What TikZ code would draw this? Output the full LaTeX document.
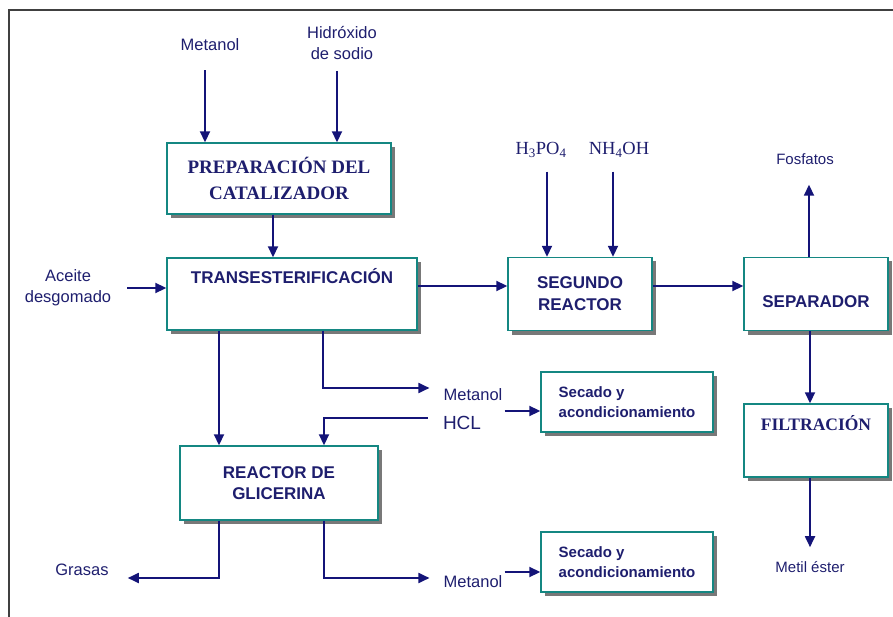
\documentclass[tikz,border=0pt]{standalone}
\usepackage{fontspec}
\setmainfont{Liberation Serif}
\setsansfont{Liberation Sans}
\usetikzlibrary{arrows.meta,positioning,shadows}
\definecolor{pnavy}{RGB}{20,20,120}
\definecolor{ptext}{RGB}{30,30,110}
\definecolor{pteal}{RGB}{20,135,130}
\definecolor{pshadow}{RGB}{120,120,120}

\begin{document}
\begin{tikzpicture}[x=1pt,y=-1pt,
  unit/.style={draw=pteal, line width=1.4pt, fill=white, text=ptext, align=center,
    drop shadow={shadow xshift=4pt, shadow yshift=-4pt, fill=pshadow, opacity=1}},
  sanslbl/.style={font=\sffamily\bfseries\fontsize{17}{22}\selectfont},
  seriflbl/.style={font=\bfseries\fontsize{19}{26}\selectfont},
  tag/.style={text=ptext, inner sep=2pt, align=center, font=\sffamily\fontsize{16.5}{21}\selectfont},
  flow/.style={draw=pnavy, line width=1.8pt, -{Triangle[length=11pt,width=10pt]}}
]
\useasboundingbox (0,0) rectangle (893,617);
% page frame
\draw[line width=2.2pt, black!75] (9,617) -- (9,10) -- (893,10);

% process units
\node[unit, seriflbl, minimum width=224pt, minimum height=71pt] (prep) at (279,178.5) {PREPARACIÓN DEL\\CATALIZADOR};
\node[unit, sanslbl, minimum width=250pt, minimum height=72pt] (trans) at (292,294) {TRANSESTERIFICACIÓN\\[14pt]\mbox{}};
\node[unit, sanslbl, minimum width=144pt, minimum height=73pt] (seg) at (580,294) {SEGUNDO\\REACTOR};
\node[unit, sanslbl, minimum width=144pt, minimum height=73pt] (sep) at (816,294) {\raisebox{-8pt}[\height][0pt]{SEPARADOR}};
\node[unit, font=\bfseries\fontsize{17.5}{22}\selectfont, minimum width=144pt, minimum height=73pt] (filt) at (816,440.5) {FILTRACIÓN\\[13pt]\mbox{}};
\node[unit, font=\sffamily\bfseries\fontsize{17}{21}\selectfont, minimum width=198pt, minimum height=74pt] (gli) at (279,483) {REACTOR DE\\GLICERINA};
\node[unit, align=left, font=\sffamily\bfseries\fontsize{15}{19.5}\selectfont, minimum width=172pt, minimum height=60pt] (sec1) at (627,402) {Secado y\\acondicionamiento};
\node[unit, align=left, font=\sffamily\bfseries\fontsize{15}{19.5}\selectfont, minimum width=172pt, minimum height=60pt] (sec2) at (627,562) {Secado y\\acondicionamiento};

% streams in and out
\node[tag] (metA) at (210,45) {Metanol};
\node[tag] (naoh) at (342,43) {Hidróxido\\de sodio};
\node[tag] (aceite) at (68,288) {Aceite\\desgomado};
\node[tag, font=\rmfamily\fontsize{18.5}{22}\selectfont] (h3po4) at (541,150) {H\textsubscript{3}PO\textsubscript{4}};
\node[tag, font=\rmfamily\fontsize{18.5}{22}\selectfont] (nh4oh) at (619,150) {NH\textsubscript{4}OH};
\node[tag, font=\sffamily\fontsize{15}{18}\selectfont] (fosf) at (805,159) {Fosfatos};
\node[tag, font=\sffamily\fontsize{15}{18}\selectfont] (ester) at (810,567) {Metil éster};
\node[tag] (met1) at (473,395) {Metanol};
\node[tag, font=\sffamily\fontsize{19}{22}\selectfont] (hcl) at (462,423) {HCL};
\node[tag] (grasas) at (82,570) {Grasas};
\node[tag] (met2) at (473,582) {Metanol};

% catalyst line
\draw[flow, shorten <=17pt] ([xshift=-5pt]metA.south) -- ([xshift=-5pt]metA.south |- prep.north);
\draw[flow, shorten <=9pt] ([xshift=-5pt]naoh.south) -- ([xshift=-5pt]naoh.south |- prep.north);
\draw[flow] ([xshift=-6pt]prep.south) -- ([xshift=-6pt]prep.south |- trans.north);
% main line
\draw[flow, shorten <=14pt] (aceite.east) -- (aceite.east -| trans.west);
\draw[flow] ([yshift=8pt]trans.east) -- ([yshift=8pt]trans.east -| seg.west);
\draw[flow] ([yshift=8pt]seg.east) -- ([yshift=8pt]seg.east -| sep.west);
\draw[flow, shorten <=12pt] ([xshift=6pt]h3po4.south) -- ([xshift=6pt]h3po4.south |- seg.north);
\draw[flow, shorten <=12pt] ([xshift=-6pt]nh4oh.south) -- ([xshift=-6pt]nh4oh.south |- seg.north);
\draw[flow, shorten >=18pt] ([xshift=-7pt]sep.north) -- ([xshift=-7pt]sep.north |- fosf.south);
\draw[flow] ([xshift=-6pt]sep.south) -- ([xshift=-6pt]filt.north);
\draw[flow, shorten >=12pt] ([xshift=-6pt]filt.south) -- ([xshift=-6pt]filt.south |- ester.north);
% glycerin side
\draw[flow] ([xshift=-73pt]trans.south) -- ([xshift=-73pt]trans.south |- gli.north);
\draw[flow] ([xshift=31pt]trans.south) |- ([xshift=-12pt,yshift=7pt]met1.west);
\draw[flow] ([yshift=-16pt]met1.east) -- ([yshift=-9pt]sec1.west);
\draw[flow] ([xshift=-13pt,yshift=5pt]hcl.west) -| ([xshift=45pt]gli.north);
\draw[flow] ([xshift=-60pt]gli.south) |- ([xshift=17pt,yshift=-8pt]grasas.east);
\draw[flow] ([xshift=45pt]gli.south) |- ([xshift=-12pt,yshift=4pt]met2.west);
\draw[flow] ([yshift=10pt]met2.east) -- ([yshift=-10pt]sec2.west);
\end{tikzpicture}
\end{document}
